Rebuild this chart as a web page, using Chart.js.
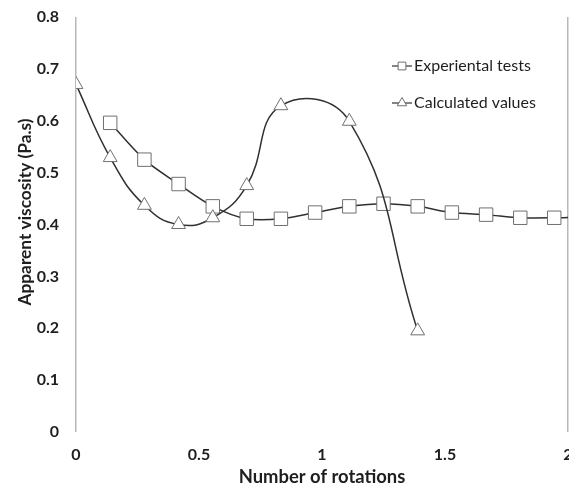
<!DOCTYPE html>
<html>
<head>
<meta charset="utf-8">
<script src="https://cdn.jsdelivr.net/npm/chart.js@4.4.1/dist/chart.umd.min.js"></script>
<style>
  html, body { margin: 0; padding: 0; background: #ffffff; }
  #wrap { width: 569px; height: 489px; position: relative; }
</style>
</head>
<body>
<div id="wrap"><canvas id="chart" width="569" height="489"></canvas></div>
<script>
// Series labels
const seriesNames = ['Experiental tests', 'Calculated values'];
const yAxisTitle = 'Apparent viscosity (Pa.s)';
const xAxisTitle = 'Number of rotations';

// Experimental measurements: number of rotations vs apparent viscosity (Pa.s)
const expRotations = [0.139, 0.278, 0.417, 0.556, 0.694, 0.833, 0.972, 1.111, 1.25, 1.389, 1.528, 1.667, 1.806, 1.944, 2.083];
const expViscosity = [0.596, 0.525, 0.478, 0.435, 0.411, 0.411, 0.423, 0.435, 0.44, 0.435, 0.423, 0.419, 0.413, 0.413, 0.415];

// Calculated values
const calcRotations = [0, 0.139, 0.278, 0.417, 0.556, 0.694, 0.833, 1.111, 1.389];
const calcViscosity = [0.67, 0.529, 0.437, 0.40, 0.413, 0.475, 0.629, 0.599, 0.195];

// Axis ticks
const xTicks = [0, 0.5, 1, 1.5, 2];
const yTicks = [0, 0.1, 0.2, 0.3, 0.4, 0.5, 0.6, 0.7, 0.8];

const toPoints = (xs, ys) => xs.map((x, i) => ({ x: x, y: ys[i] }));

const FONT = 'Lato, "Open Sans", sans-serif';
const TEXT = '#1e1e1e';
const LINE = '#303030';
const FRAME = '#b8b8b8';

// Legend drawn inside the plot area (top right) and the vertical axis title
const overlayText = {
  id: 'overlayText',
  afterDatasetsDraw(chart) {
    const ctx = chart.ctx;
    const area = chart.chartArea;
    const startX = area.left + 316;
    const rows = [area.top + 49, area.top + 86];
    ctx.save();
    chart.data.datasets.forEach((ds, i) => {
      const y = rows[i];
      ctx.strokeStyle = ds.borderColor;
      ctx.lineWidth = 1.2;
      ctx.beginPath();
      ctx.moveTo(startX, y);
      ctx.lineTo(startX + 20, y);
      ctx.stroke();
      ctx.fillStyle = '#ffffff';
      ctx.strokeStyle = ds.pointBorderColor;
      ctx.lineWidth = 1;
      Chart.helpers.drawPoint(ctx, {
        pointStyle: ds.pointStyle,
        radius: 5.5,
        borderWidth: 1,
        rotation: 0
      }, startX + 10, y);
      ctx.fillStyle = TEXT;
      ctx.font = '16px ' + FONT;
      ctx.textAlign = 'left';
      ctx.textBaseline = 'middle';
      ctx.fillText(ds.label, startX + 22, y);
    });

    // vertical axis title
    ctx.translate(25, 212);
    ctx.rotate(-Math.PI / 2);
    ctx.fillStyle = TEXT;
    ctx.font = 'bold 17.3px ' + FONT;
    ctx.textAlign = 'center';
    ctx.textBaseline = 'middle';
    ctx.fillText(yAxisTitle, 0, 0);
    ctx.restore();
  }
};

new Chart(document.getElementById('chart'), {
  type: 'scatter',
  data: {
    datasets: [
      {
        label: seriesNames[0],
        data: toPoints(expRotations, expViscosity),
        showLine: true,
        tension: 0.3,
        borderColor: LINE,
        borderWidth: 1.5,
        pointStyle: 'rect',
        pointRadius: 9.5,
        pointHoverRadius: 9.5,
        pointBackgroundColor: '#ffffff',
        pointBorderColor: '#707070',
        pointBorderWidth: 1,
        order: 1
      },
      {
        label: seriesNames[1],
        data: toPoints(calcRotations, calcViscosity),
        showLine: true,
        tension: 0.45,
        borderColor: LINE,
        borderWidth: 1.5,
        pointStyle: 'triangle',
        pointRadius: 8,
        pointHoverRadius: 8,
        pointBackgroundColor: '#ffffff',
        pointBorderColor: '#707070',
        pointBorderWidth: 1,
        order: 0
      }
    ]
  },
  options: {
    responsive: false,
    animation: false,
    devicePixelRatio: 1,
    layout: { autoPadding: false, padding: { top: 17, right: 1, left: 0, bottom: 0 } },
    plugins: {
      legend: { display: false },
      tooltip: { enabled: false }
    },
    scales: {
      x: {
        type: 'linear',
        min: 0,
        max: 2,
        afterBuildTicks: (scale) => { scale.ticks = xTicks.map(v => ({ value: v })); },
        afterFit: (scale) => { scale.height = 57; scale.paddingLeft = 0; scale.paddingRight = 0; },
        border: { display: false },
        grid: {
          drawTicks: false,
          lineWidth: 1.5,
          color: (c) => (c.tick && (c.tick.value === 0 || c.tick.value === 2)) ? FRAME : 'rgba(0,0,0,0)'
        },
        ticks: {
          padding: 13,
          maxRotation: 0,
          color: TEXT,
          font: { family: FONT, size: 16, weight: 'bold' },
          callback: (v) => String(v)
        },
        title: {
          display: true,
          text: xAxisTitle,
          color: TEXT,
          font: { family: FONT, size: 18.4, weight: 'bold' },
          padding: { top: 0, bottom: 1 }
        }
      },
      y: {
        type: 'linear',
        min: 0,
        max: 0.8,
        afterBuildTicks: (scale) => { scale.ticks = yTicks.map(v => ({ value: v })); },
        afterFit: (scale) => { scale.width = 76; scale.paddingTop = 0; scale.paddingBottom = 0; },
        border: { display: false },
        grid: { display: false, drawTicks: false },
        ticks: {
          padding: 17,
          color: TEXT,
          font: { family: FONT, size: 16, weight: 'bold' },
          callback: (v) => String(v)
        }
      }
    }
  },
  plugins: [overlayText]
});
</script>
</body>
</html>
